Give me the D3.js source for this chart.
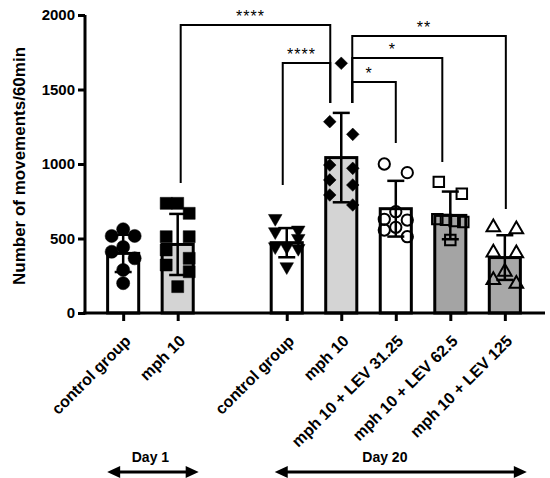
<!DOCTYPE html>
<html>
<head>
<meta charset="utf-8">
<script src="https://cdn.jsdelivr.net/npm/d3@7"></script>
<style>
  body { margin: 0; background: #fff; }
  text { font-family: "Liberation Sans", Arial, sans-serif; font-weight: bold; }
</style>
</head>
<body>
<div id="chart"></div>
<script>
// groups on the x axis ("gap" is the empty slot between the two days)
const groups = ["ctrl1", "mph1", "gap", "ctrl20", "mph20", "lev31", "lev62", "lev125"];
const tickLabels = ["control group", "mph 10", "", "control group", "mph 10",
    "mph 10 + LEV 31.25", "mph 10 + LEV 62.5", "mph 10 + LEV 125"];

const means = [400, 460, null, 472, 1043, 700, 655, 372];
const sds = [125, 205, null, 98, 300, 187, 160, 150];

const points = [
    [562, 517, 517, 443, 411, 367, 289, 200],
    [736, 736, 669, 512, 512, 423, 367, 322, 277, 177],
    [],
    [635, 557, 546, 501, 445, 445, 434, 311],
    [1676, 1284, 1199, 993, 971, 893, 859, 792, 725],
    [1000, 942, 680, 629, 624, 575, 557, 512],
    [880, 800, 630, 625, 618, 610, 490],
    [575, 561, 405, 400, 277, 221, 195]
];

const barFills = ["#ffffff", "#d4d4d4", null, "#ffffff", "#d4d4d4", "#ffffff", "#a4a4a4", "#a8a8a8"];
const symbols = ["circle", "square", null, "triDown", "diamond", "circleOpen", "squareOpen", "triOpen"];

const yTicks = [0, 500, 1000, 1500, 2000];

// significance brackets: from group, to group, bottom values, top value, label
const brackets = [
    { from: "mph1", to: "mph20", lo1: 872, lo2: 1409, top: 1933, label: "****", dx1: 3, dx2: -11 },
    { from: "ctrl20", to: "mph20", lo1: 859, lo2: 1409, top: 1678, label: "****", dx1: -4, dx2: -11 },
    { from: "mph20", to: "lev125", lo1: 1409, lo2: 698, top: 1859, label: "**", dx1: 11, dx2: 1 },
    { from: "mph20", to: "lev62", lo1: 1409, lo2: 1013, top: 1711, label: "*", dx1: 11, dx2: -8 },
    { from: "mph20", to: "lev31", lo1: 1409, lo2: 1141, top: 1550, label: "*", dx1: 11, dx2: 0 }
];

const days = [
    { label: "Day 1", from: "ctrl1", to: "mph1", padL: 16, padR: 21, textAt: 0.5 },
    { label: "Day 20", from: "ctrl20", to: "lev125", padL: 12, padR: 22, textAt: 1.8 }
];

const width = 550, height = 478;
const svg = d3.select("#chart").append("svg")
    .attr("width", width)
    .attr("height", height);

const x = d3.scalePoint().domain(groups).range([85, 543]).padding(0.7);
const y = d3.scaleLinear().domain([0, 2000]).range([313, 15]);
const barW = x.step() * 0.57;

// y axis
const yAxis = svg.append("g")
    .attr("transform", "translate(85,0)")
    .call(d3.axisLeft(y).tickValues(yTicks).tickFormat(d3.format("d"))
        .tickSize(7).tickPadding(3).tickSizeOuter(0));
yAxis.select(".domain").attr("stroke-width", 3).attr("d", `M0,${y(0) + 1.5}V${y(2000)}`);
yAxis.selectAll(".tick line").attr("stroke-width", 3);
yAxis.selectAll(".tick text").style("font-size", "15px").attr("fill", "#000");

svg.append("text")
    .attr("transform", `translate(25,${(y(0) + y(2000)) / 2 + 2}) rotate(-90)`)
    .attr("text-anchor", "middle")
    .style("font-size", "17px")
    .text("Number of movements/60min");

// bars
const idx = groups.map((g, i) => i).filter(i => means[i] !== null);

svg.selectAll(".bar")
    .data(idx)
    .join("rect")
    .attr("class", "bar")
    .attr("x", i => x(groups[i]) - barW / 2)
    .attr("width", barW)
    .attr("y", i => y(means[i]))
    .attr("height", i => y(0) - y(means[i]))
    .attr("fill", i => barFills[i])
    .attr("stroke", "#000")
    .attr("stroke-width", 3);

// x axis
const xAxis = svg.append("g")
    .attr("transform", `translate(0,${y(0)})`)
    .call(d3.axisBottom(x).tickValues(groups.filter(g => g !== "gap"))
        .tickSize(8).tickSizeOuter(0)
        .tickFormat(g => tickLabels[groups.indexOf(g)]));
xAxis.select(".domain").attr("stroke-width", 3).attr("d", "M83,0H545");
xAxis.selectAll(".tick line").attr("stroke-width", 3);
xAxis.selectAll(".tick text")
    .attr("x", 0).attr("y", 0).attr("dy", 0)
    .attr("transform", "translate(8,29) rotate(-45)")
    .attr("text-anchor", "end")
    .attr("fill", "#000")
    .style("font-size", "16px");

// error bars
const capW = 17;
idx.forEach(i => {
    const cx = x(groups[i]);
    const hi = y(means[i] + sds[i]), lo = y(means[i] - sds[i]);
    const g = svg.append("g").attr("stroke", "#000").attr("stroke-width", 2.5);
    g.append("line").attr("x1", cx).attr("x2", cx).attr("y1", hi).attr("y2", lo);
    g.append("line").attr("x1", cx - capW / 2).attr("x2", cx + capW / 2).attr("y1", hi).attr("y2", hi);
    g.append("line").attr("x1", cx - capW / 2).attr("x2", cx + capW / 2).attr("y1", lo).attr("y2", lo);
});

// scatter points: values close in height share a row and are spread sideways
function spread(values, rowPx, s) {
    const sorted = values.slice().sort((a, b) => b - a);
    const rows = [];
    sorted.forEach(v => {
        const last = rows[rows.length - 1];
        if (last && y(v) - y(last[0]) < rowPx) last.push(v);
        else rows.push([v]);
    });
    const out = [];
    rows.forEach(row => {
        const n = row.length;
        let offs;
        if (n === 1) offs = [0];
        else if (n === 2) offs = [-s, s];
        else if (n === 3) offs = [0, -s, s];
        else {
            const sp = Math.min(s, 26 / (n - 1));
            offs = row.map((_, k) => (k - (n - 1) / 2) * sp);
        }
        row.forEach((v, k) => out.push({ v, dx: offs[k], py: y(v) }));
    });
    return out;
}

const symbolDefs = {
    circle: { type: d3.symbolCircle, size: 135, fill: true, rot: 0 },
    square: { type: d3.symbolSquare, size: 144, fill: true, rot: 0 },
    triDown: { type: d3.symbolTriangle, size: 80, fill: true, rot: 180 },
    diamond: { type: d3.symbolSquare, size: 80, fill: true, rot: 45 },
    circleOpen: { type: d3.symbolCircle, size: 100, fill: false, rot: 0 },
    squareOpen: { type: d3.symbolSquare, size: 110, fill: false, rot: 0 },
    triOpen: { type: d3.symbolTriangle, size: 80, fill: false, rot: 0 }
};

idx.forEach(i => {
    const def = symbolDefs[symbols[i]];
    const cx = x(groups[i]);
    const pts = spread(points[i], 13, 11.5);
    svg.append("g").selectAll("path")
        .data(pts)
        .join("path")
        .attr("d", d3.symbol().type(def.type).size(def.size))
        .attr("transform", d => `translate(${cx + d.dx},${d.py}) rotate(${def.rot})`)
        .attr("fill", def.fill ? "#000" : "none")
        .attr("stroke", "#000")
        .attr("stroke-width", def.fill ? 0.5 : 2);
});

// significance brackets
brackets.forEach(b => {
    const x1 = x(b.from) + b.dx1, x2 = x(b.to) + b.dx2;
    const yt = y(b.top);
    svg.append("path")
        .attr("d", `M${x1},${y(b.lo1)}V${yt}H${x2}V${y(b.lo2)}`)
        .attr("fill", "none")
        .attr("stroke", "#000")
        .attr("stroke-width", 2);
    svg.append("text")
        .attr("x", (x1 + x2) / 2 - 5)
        .attr("y", yt - 3)
        .attr("text-anchor", "middle")
        .style("font-size", "16px")
        .style("font-weight", "normal")
        .style("letter-spacing", "1px")
        .text(b.label);
});

// day arrows under the axis
const arrowY = 472;
days.forEach(d => {
    const x1 = x(d.from) - d.padL, x2 = x(d.to) + d.padR;
    const head = 13, half = 6;
    svg.append("line")
        .attr("x1", x1 + head - 2).attr("x2", x2 - head + 2)
        .attr("y1", arrowY).attr("y2", arrowY)
        .attr("stroke", "#000").attr("stroke-width", 3);
    svg.append("path")
        .attr("d", `M${x1},${arrowY}L${x1 + head},${arrowY - half}V${arrowY + half}Z`
            + `M${x2},${arrowY}L${x2 - head},${arrowY - half}V${arrowY + half}Z`)
        .attr("fill", "#000");
    svg.append("text")
        .attr("x", x(d.from) + x.step() * d.textAt)
        .attr("y", arrowY - 10)
        .attr("text-anchor", "middle")
        .style("font-size", "14px")
        .text(d.label);
});
</script>
</body>
</html>
